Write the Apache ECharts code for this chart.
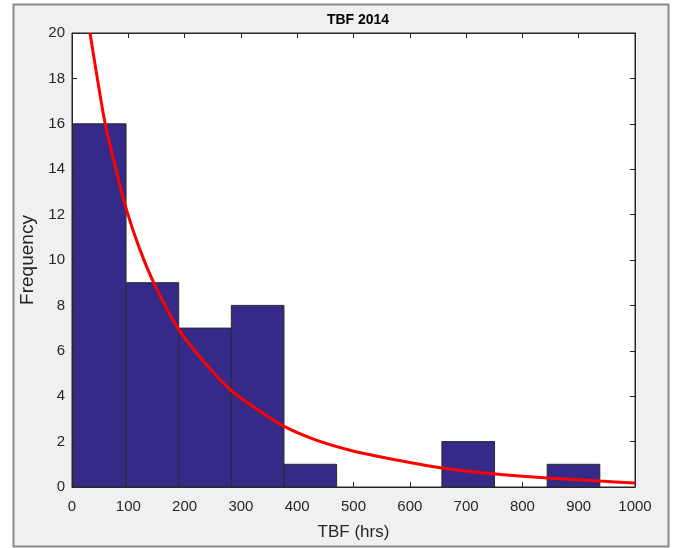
<!DOCTYPE html>
<html>
<head>
<meta charset="utf-8">
<script src="https://cdn.jsdelivr.net/npm/echarts@6/dist/echarts.min.js"></script>
<style>
  html, body { margin: 0; padding: 0; background: #fff; }
  #chart { width: 675px; height: 548px; }
</style>
</head>
<body>
<div id="chart"></div>
<script>
// histogram bins (TBF hrs) and counts
const binEdges = [2.5, 96, 189.5, 283, 376.5, 470, 563.5, 657, 750.5, 844, 937.5]
const counts = [16, 9, 7, 8, 1, 0, 0, 2, 0, 1]

// fitted curve, points
const fitX = [32, 45, 59, 78, 97, 120, 147, 188, 235, 282, 330, 375, 430, 494, 560, 657, 751, 844, 938, 1000]
const fitY = [20, 18, 16, 14, 12.2, 10.5, 8.9, 7, 5.5, 4.27, 3.4, 2.69, 2.1, 1.62, 1.27, 0.84, 0.57, 0.40, 0.26, 0.18]

const xTicks = [0, 100, 200, 300, 400, 500, 600, 700, 800, 900, 1000]
const yTicks = [0, 2, 4, 6, 8, 10, 12, 14, 16, 18, 20]

const font = 'Liberation Sans, Arial, sans-serif'
const txt = '#262626'

const barData = counts.map((c, i) => [binEdges[i], binEdges[i + 1], c])
const fitData = fitX.map((x, i) => [x, fitY[i]])

const chart = echarts.init(document.getElementById('chart'))

const tick = { show: true, inside: true, length: 5, lineStyle: { color: txt, width: 1 } }
const line = { show: true, onZero: false, lineStyle: { color: txt, width: 1 } }

const baseX = {
  type: 'value', min: xTicks[0], max: xTicks[xTicks.length - 1], interval: 100,
  splitLine: { show: false }, axisLine: line, axisTick: tick
}
const baseY = {
  type: 'value', min: yTicks[0], max: yTicks[yTicks.length - 1], interval: 2,
  splitLine: { show: false }, axisLine: line, axisTick: tick
}

chart.setOption({
  animation: false,
  graphic: [{
    type: 'rect', z: -10, silent: true,
    shape: { x: 13.5, y: 4.5, width: 655, height: 542 },
    style: { fill: '#f0f0f0', stroke: '#8a8a8a', lineWidth: 2 }
  }],
  title: {
    text: 'TBF 2014', left: 353, top: 8, textAlign: 'center',
    textStyle: { fontFamily: font, fontSize: 14, fontWeight: 'bold', color: '#000' }
  },
  grid: {
    left: 72, top: 33, width: 563, height: 454, show: true,
    backgroundColor: '#fff', borderColor: txt, borderWidth: 1
  },
  xAxis: [
    Object.assign({}, baseX, {
      position: 'bottom',
      name: 'TBF (hrs)', nameLocation: 'middle', nameGap: 37,
      nameTextStyle: { fontFamily: font, fontSize: 17, color: txt },
      axisLabel: { fontFamily: font, fontSize: 15, color: txt, margin: 12, formatter: v => String(v) }
    }),
    Object.assign({}, baseX, { position: 'top', axisLabel: { show: false } })
  ],
  yAxis: [
    Object.assign({}, baseY, {
      position: 'left',
      name: 'Frequency', nameLocation: 'middle', nameGap: 34,
      nameTextStyle: { fontFamily: font, fontSize: 19, color: txt },
      axisLabel: { fontFamily: font, fontSize: 15, color: txt, margin: 7 }
    }),
    Object.assign({}, baseY, { position: 'right', axisLabel: { show: false } })
  ],
  series: [
    {
      type: 'custom',
      data: barData,
      encode: { x: [0, 1], y: 2 },
      renderItem(params, api) {
        const h = api.value(2)
        if (!h) return null
        const p0 = api.coord([api.value(0), h])
        const p1 = api.coord([api.value(1), 0])
        return {
          type: 'rect',
          shape: { x: p0[0], y: p0[1], width: p1[0] - p0[0], height: p1[1] - p0[1] },
          style: { fill: '#352a87', stroke: '#2b2b2b', lineWidth: 1 }
        }
      },
      z: 2
    },
    {
      type: 'line',
      data: fitData,
      smooth: 0.3,
      showSymbol: false,
      clip: true,
      lineStyle: { color: '#ff0000', width: 3 },
      z: 3
    }
  ]
})
</script>
</body>
</html>
